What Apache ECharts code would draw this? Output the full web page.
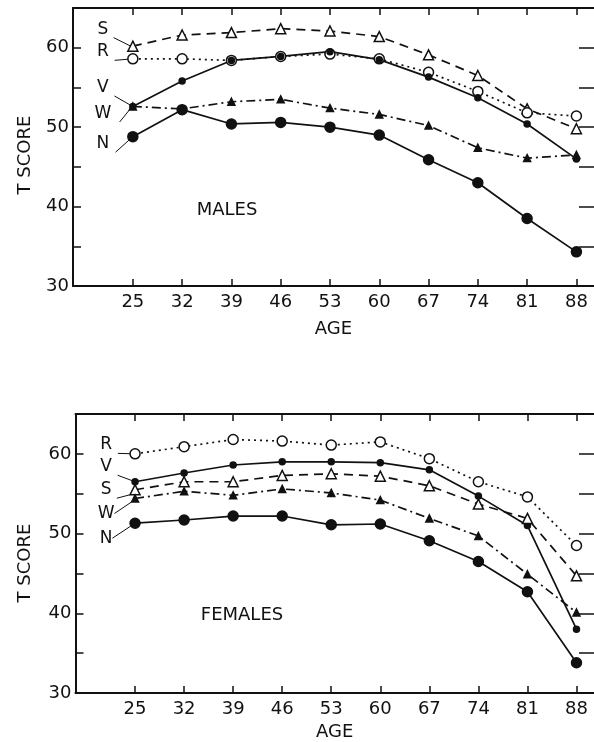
<!DOCTYPE html>
<html>
<head>
<meta charset="utf-8">
<script src="https://cdn.jsdelivr.net/npm/echarts@6/dist/echarts.min.js"></script>
<style>html,body{margin:0;padding:0;background:#fff;}#c{width:594px;height:742px;}</style>
</head>
<body>
<div id="c"></div>
<script>
var ages = [25, 32, 39, 46, 53, 60, 67, 74, 81, 88];
var yTicks = [30, 40, 50, 60];

var maleS = [60.2, 61.6, 61.9, 62.4, 62.1, 61.4, 59.1, 56.5, 52.3, 49.8];
var maleR = [58.6, 58.6, 58.4, 58.9, 59.2, 58.6, 56.9, 54.5, 51.8, 51.4];
var maleV = [52.6, 55.8, 58.4, 58.9, 59.5, 58.5, 56.3, 53.7, 50.4, 46.0];
var maleW = [52.6, 52.3, 53.2, 53.5, 52.4, 51.6, 50.2, 47.4, 46.1, 46.5];
var maleN = [48.8, 52.2, 50.4, 50.6, 50.0, 49.0, 45.9, 43.0, 38.5, 34.3];

var femaleR = [60.0, 60.9, 61.8, 61.6, 61.1, 61.5, 59.4, 56.5, 54.6, 48.5];
var femaleV = [56.5, 57.6, 58.6, 59.0, 59.0, 58.9, 58.0, 54.7, 51.0, 38.0];
var femaleS = [55.5, 56.5, 56.5, 57.3, 57.5, 57.2, 56.0, 53.7, 51.9, 44.7];
var femaleW = [54.4, 55.3, 54.8, 55.6, 55.1, 54.2, 51.9, 49.7, 44.9, 40.1];
var femaleN = [51.3, 51.7, 52.2, 52.2, 51.1, 51.2, 49.1, 46.5, 42.7, 33.8];

var FONT = 'DejaVu Sans';
var BLACK = '#111';

var styles = {
  S: {symbol: 'triangle', size: 10, fill: '#fff', type: [9, 6]},
  R: {symbol: 'circle', size: 10, fill: '#fff', type: [2, 4]},
  V: {symbol: 'circle', size: 6, fill: BLACK, type: 'solid'},
  W: {symbol: 'triangle', size: 7, fill: BLACK, type: [9, 4, 2, 4]},
  N: {symbol: 'circle', size: 10, fill: BLACK, type: 'solid'}
};

function mkSeries(name, values, off) {
  var st = styles[name];
  var data = values.map(function (v, i) {
    var item = {value: [ages[i], v]};
    if (i === 0) {
      item.label = {
        show: true, formatter: name, position: 'inside', offset: off,
        fontFamily: FONT, fontSize: 17, color: BLACK
      };
      item.labelLine = {show: true, lineStyle: {color: BLACK, width: 1}};
    }
    return item;
  });
  return {
    type: 'line', name: name,
    data: data, symbol: st.symbol, symbolSize: st.size,
    itemStyle: {color: st.fill, borderColor: BLACK, borderWidth: 1.5},
    lineStyle: {color: BLACK, width: 1.7, type: st.type},
    label: {show: false}, animation: false, z: 3
  };
}

var grids = [
  {left: 73, top: 8, width: 524, height: 278},
  {left: 75.5, top: 414, width: 524, height: 280}
];

var xAxes = [], yAxes = [];
[0, 1].forEach(function (g) {
  xAxes.push({
    type: 'value', gridIndex: g, min: 16.5, max: 90.5, position: 'bottom',
    name: 'AGE', nameLocation: 'middle', nameGap: g === 0 ? 34 : 30,
    nameTextStyle: {fontFamily: FONT, fontSize: 18, color: BLACK, verticalAlign: 'top'},
    axisLine: {show: true, lineStyle: {color: BLACK, width: 2}},
    axisTick: {show: true, inside: true, length: 7, customValues: ages, lineStyle: {color: BLACK, width: 1.5}},
    axisLabel: {show: true, customValues: ages, margin: 7, fontFamily: FONT, fontSize: 18, color: BLACK},
    splitLine: {show: false}
  });
  xAxes.push({
    type: 'value', gridIndex: g, min: 16.5, max: 90.5, position: 'top',
    axisLine: {show: true, lineStyle: {color: BLACK, width: 2}},
    axisTick: {show: true, inside: true, length: 7, customValues: ages, lineStyle: {color: BLACK, width: 1.5}},
    axisLabel: {show: false},
    splitLine: {show: false}
  });
  yAxes.push({
    type: 'value', gridIndex: g, min: 30, max: 65, interval: 5, position: 'left',
    axisLine: {show: true, lineStyle: {color: BLACK, width: 2}},
    axisTick: {show: true, inside: true, length: 8, lineStyle: {color: BLACK, width: 1.5}},
    axisLabel: {
      show: true, margin: 4, fontFamily: FONT, fontSize: 18, color: BLACK,
      formatter: function (v) { return yTicks.indexOf(v) >= 0 ? String(v) : ''; }
    },
    splitLine: {show: false}
  });
  yAxes.push({
    type: 'value', gridIndex: g, min: 30, max: 65, interval: 5, position: 'right',
    axisLine: {show: false},
    axisTick: {show: true, inside: true, length: 15, lineStyle: {color: BLACK, width: 1.5}},
    axisLabel: {show: false},
    splitLine: {show: false}
  });
});

function S(name, values, g, off) {
  var s = mkSeries(name, values, off);
  s.xAxisIndex = g * 2;
  s.yAxisIndex = g * 2;
  return s;
}

var series = [
  S('S', maleS, 0, [-30, -17]),
  S('R', maleR, 0, [-30, -7]),
  S('V', maleV, 0, [-30, -19]),
  S('W', maleW, 0, [-30, 7]),
  S('N', maleN, 0, [-30, 7]),
  S('R', femaleR, 1, [-29, -9]),
  S('V', femaleV, 1, [-29, -15]),
  S('S', femaleS, 1, [-29, 0]),
  S('W', femaleW, 1, [-29, 15]),
  S('N', femaleN, 1, [-29, 15])
];

var chart = echarts.init(document.getElementById('c'), null, {renderer: 'canvas'});
chart.setOption({
  backgroundColor: '#fff',
  animation: false,
  grid: grids,
  xAxis: xAxes,
  yAxis: yAxes,
  series: series,
  graphic: [
    {type: 'text', x: 25, y: 155, rotation: Math.PI / 2,
      style: {text: 'T SCORE', fontFamily: FONT, fontSize: 18, fill: BLACK, align: 'center', verticalAlign: 'middle'}},
    {type: 'text', x: 25, y: 563, rotation: Math.PI / 2,
      style: {text: 'T SCORE', fontFamily: FONT, fontSize: 18, fill: BLACK, align: 'center', verticalAlign: 'middle'}},
    {type: 'text', x: 227, y: 210,
      style: {text: 'MALES', fontFamily: FONT, fontSize: 18, fill: BLACK, align: 'center', verticalAlign: 'middle'}},
    {type: 'text', x: 242, y: 615,
      style: {text: 'FEMALES', fontFamily: FONT, fontSize: 18, fill: BLACK, align: 'center', verticalAlign: 'middle'}}
  ]
});
</script>
</body>
</html>
